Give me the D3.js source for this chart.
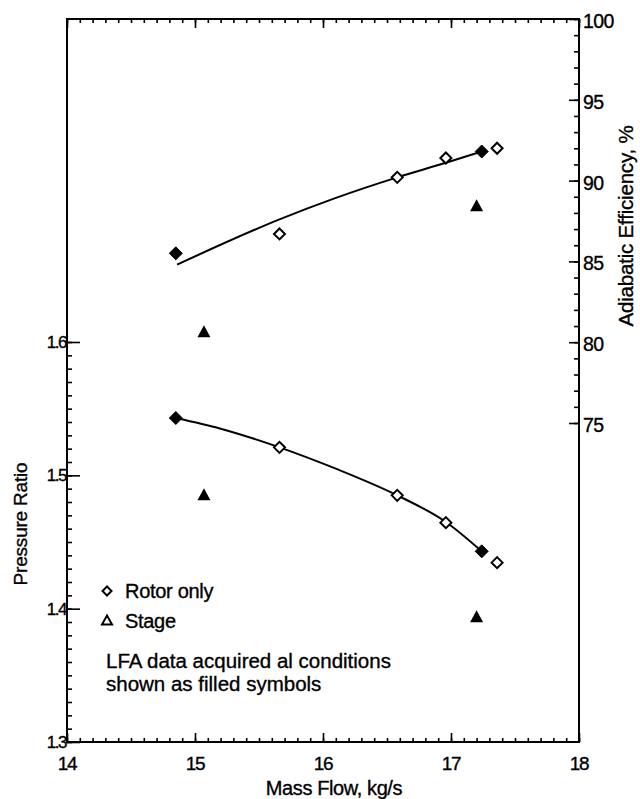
<!DOCTYPE html>
<html>
<head>
<meta charset="utf-8">
<script src="https://cdn.jsdelivr.net/npm/d3@7"></script>
<style>
  html, body { margin: 0; padding: 0; background: #fff; }
  svg { display: block; }
  text { font-family: "Liberation Sans", Arial, Helvetica, sans-serif; fill: #000; stroke: #000; stroke-width: 0.35; }
</style>
</head>
<body>
<svg id="chart" width="640" height="799"></svg>
<script>
// ---------- data ----------
const rotorMass      = [14.85, 15.66, 16.58, 16.96, 17.24, 17.36];
const rotorPressure  = [1.543, 1.521, 1.485, 1.4645, 1.443, 1.4345];
const rotorEff       = [85.5, 86.7, 90.2, 91.4, 91.8, 92.0];
const rotorFilled    = [true, false, false, false, true, false];

const stageMass      = [15.07, 17.2];
const stagePressure  = [1.485, 1.3935];
const stageEff       = [80.6, 88.4];

const prFitMass      = [14.85, 15.2, 15.66, 16.1, 16.58, 16.96, 17.24];
const prFitValues    = [1.543, 1.535, 1.521, 1.505, 1.485, 1.465, 1.443];
const effFitMass     = [14.86, 15.66, 16.09, 16.58, 16.96, 17.24];
const effFitValues   = [84.8, 87.6, 88.9, 90.2, 91.1, 91.8];

const xTicks   = [14, 15, 16, 17, 18];
const prTicks  = [1.3, 1.4, 1.5, 1.6];
const effTicks = [75, 80, 85, 90, 95, 100];

const legendItems = ["Rotor only", "Stage"];
const noteLines = ["LFA data acquired al conditions", "shown as filled symbols"];

// ---------- scales ----------
const svg = d3.select("#chart");
const L = 67, R = 579, T = 19, B = 742;

const x = d3.scaleLinear().domain([14, 18]).range([L, R]);
const yPR = d3.scaleLinear().domain([1.3, 1.6]).range([B, 342]);
const yEff = d3.scaleLinear().domain([75, 100]).range([423, T]);

// ---------- frame ----------
svg.append("rect").attr("x", L).attr("y", T).attr("width", R - L).attr("height", B - T)
  .attr("fill", "none").attr("stroke", "#000").attr("stroke-width", 2);

// ---------- axes ----------
const fmt1 = d3.format(".1f");
// bottom
const xMinor = d3.range(140, 181).map(d => d / 10);
const gB = svg.append("g").attr("transform", `translate(0,${B})`)
  .call(d3.axisTop(x).tickValues(xMinor).tickSize(4).tickFormat(""));
gB.append("g").call(d3.axisTop(x).tickValues(xTicks).tickSize(9).tickFormat(""));
// top
const gT = svg.append("g").attr("transform", `translate(0,${T})`)
  .call(d3.axisBottom(x).tickValues(xMinor).tickSize(4).tickFormat(""));
gT.append("g").call(d3.axisBottom(x).tickValues(xTicks).tickSize(9).tickFormat(""));
// left
const prMinor = d3.range(130, 161).map(d => d / 100);
const gL = svg.append("g").attr("transform", `translate(${L},0)`)
  .call(d3.axisRight(yPR).tickValues(prMinor).tickSize(5).tickFormat(""));
gL.append("g").call(d3.axisRight(yPR).tickValues(prTicks).tickSize(13).tickFormat(""));
// right
const effMinor = d3.range(75, 101);
const gR = svg.append("g").attr("transform", `translate(${R},0)`)
  .call(d3.axisLeft(yEff).tickValues(effMinor).tickSize(5).tickFormat(""));
gR.append("g").call(d3.axisLeft(yEff).tickValues(effTicks).tickSize(10).tickFormat(""));

svg.selectAll(".domain").remove();
svg.selectAll(".tick line").attr("stroke", "#000").attr("stroke-width", 1.6);

// tick labels
svg.append("g").selectAll("text").data(xTicks).join("text")
  .attr("x", d => x(d)).attr("y", 770)
  .attr("text-anchor", "middle").attr("font-size", 19).attr("letter-spacing", -1.2)
  .text(d => d);
svg.append("g").selectAll("text").data(prTicks).join("text")
  .attr("x", 66).attr("y", d => yPR(d) + 6)
  .attr("text-anchor", "end").attr("font-size", 17).attr("letter-spacing", -1.5)
  .text(d => fmt1(d));
svg.append("g").selectAll("text").data(effTicks).join("text")
  .attr("x", 583).attr("y", d => yEff(d) + 9)
  .attr("text-anchor", "start").attr("font-size", 19.5).attr("letter-spacing", -0.6)
  .text(d => d);

// axis titles
svg.append("text").attr("x", 334).attr("y", 795).attr("text-anchor", "middle")
  .attr("font-size", 20).attr("letter-spacing", -0.4).text("Mass Flow, kg/s");
svg.append("text").attr("transform", "translate(27,524) rotate(-90)").attr("text-anchor", "middle")
  .attr("font-size", 19).attr("letter-spacing", -0.2).text("Pressure Ratio");
svg.append("text").attr("transform", "translate(633,226) rotate(-90)").attr("text-anchor", "middle")
  .attr("font-size", 20.5).attr("letter-spacing", -0.2).text("Adiabatic Efficiency, %");

// ---------- fit curves ----------
const prLine = d3.line().x(d => x(d[0])).y(d => yPR(d[1])).curve(d3.curveMonotoneX);
svg.append("path").attr("d", prLine(d3.zip(prFitMass, prFitValues)))
  .attr("fill", "none").attr("stroke", "#000").attr("stroke-width", 2);
const effLine = d3.line().x(d => x(d[0])).y(d => yEff(d[1])).curve(d3.curveMonotoneX);
svg.append("path").attr("d", effLine(d3.zip(effFitMass, effFitValues)))
  .attr("fill", "none").attr("stroke", "#000").attr("stroke-width", 2);

// ---------- markers ----------
function diamond(cx, cy, r) {
  const p = d3.path();
  p.moveTo(cx, cy - r); p.lineTo(cx + r, cy); p.lineTo(cx, cy + r); p.lineTo(cx - r, cy); p.closePath();
  return p.toString();
}
function triangle(cx, cy, w, h) {
  const p = d3.path();
  p.moveTo(cx, cy - h * 0.6); p.lineTo(cx + w / 2, cy + h * 0.4); p.lineTo(cx - w / 2, cy + h * 0.4); p.closePath();
  return p.toString();
}
const rotorData = rotorMass.map((m, i) => ({ m, pr: rotorPressure[i], eff: rotorEff[i], f: rotorFilled[i] }));
const stageData = stageMass.map((m, i) => ({ m, pr: stagePressure[i], eff: stageEff[i] }));

[["pr", yPR], ["eff", yEff]].forEach(([k, sc]) => {
  svg.append("g").selectAll("path").data(rotorData).join("path")
    .attr("d", d => diamond(x(d.m), sc(d[k]), d.f ? 6.5 : 5.5))
    .attr("fill", d => d.f ? "#000" : "#fff")
    .attr("stroke", "#000").attr("stroke-width", d => d.f ? 1 : 2);
  svg.append("g").selectAll("path").data(stageData).join("path")
    .attr("d", d => triangle(x(d.m), sc(d[k]), 13, 12))
    .attr("fill", "#000").attr("stroke", "none");
});

// ---------- legend ----------
const lg = svg.append("g");
lg.append("path").attr("d", diamond(107, 591, 4.5)).attr("fill", "none").attr("stroke", "#000").attr("stroke-width", 2);
lg.append("path").attr("d", triangle(107, 621, 10, 9)).attr("fill", "none").attr("stroke", "#000").attr("stroke-width", 2);
lg.selectAll("text.leg").data(legendItems).join("text").attr("class", "leg")
  .attr("x", 125).attr("y", (d, i) => 598 + i * 30)
  .attr("font-size", 20).attr("letter-spacing", -0.3).text(d => d);
lg.selectAll("text.note").data(noteLines).join("text").attr("class", "note")
  .attr("x", 106).attr("y", (d, i) => 668 + i * 23)
  .attr("font-size", 20.5).attr("letter-spacing", 0).text(d => d);
</script>
</body>
</html>
